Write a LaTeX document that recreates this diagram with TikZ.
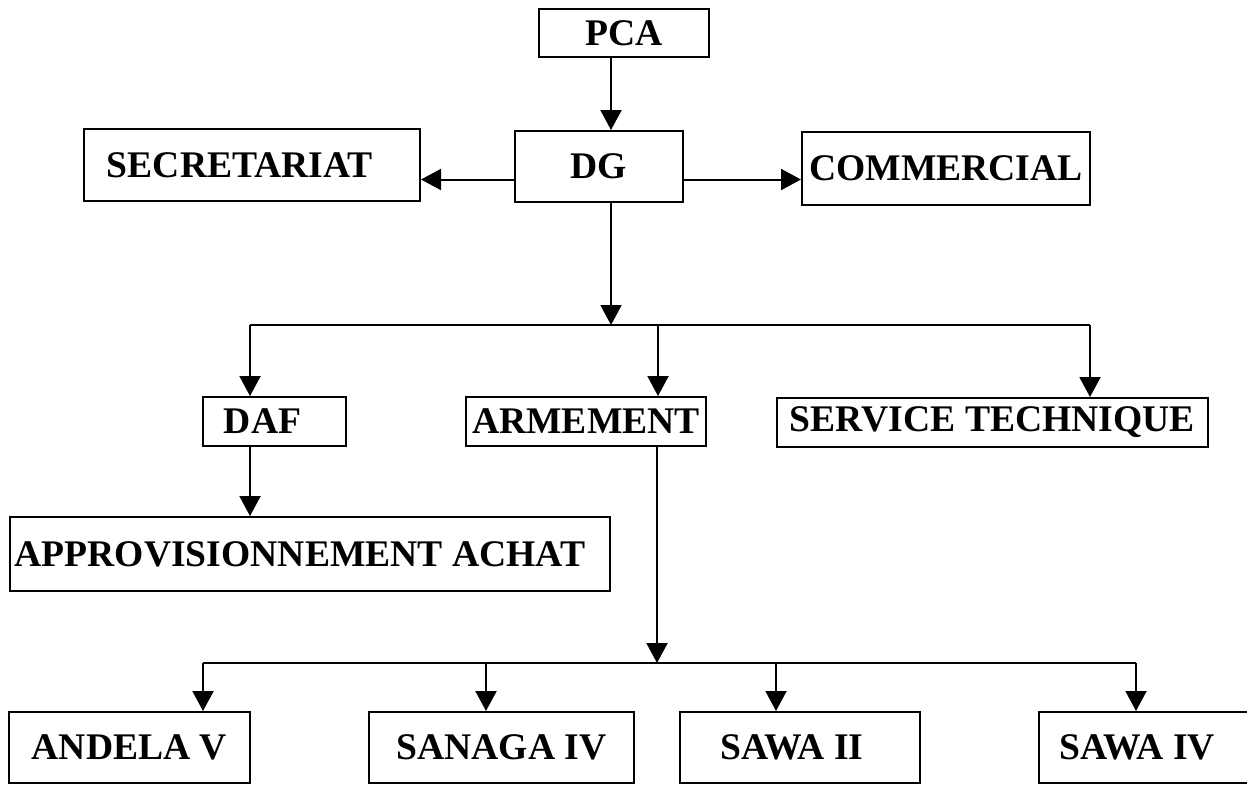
\documentclass[tikz,border=0pt]{standalone}
\usepackage{fontspec}
\setmainfont{Liberation Serif}
\usetikzlibrary{arrows.meta}
\begin{document}
\begin{tikzpicture}[x=0.5pt,y=-0.5pt,
  box/.style={draw,line width=1pt,inner sep=0pt,font=\fontsize{18.8}{22}\selectfont\bfseries},
  arr/.style={line width=1pt,-{Triangle[length=10pt,width=10.5pt]}},
  ln/.style={line width=1pt}]
\useasboundingbox (0,0) rectangle (1247,784);
\clip (0,0) rectangle (1247,784);
% boxes
\node[box,minimum width=85pt,minimum height=24pt] (pca) at (624,33) {PCA};
\node[box,minimum width=84pt,minimum height=35.5pt] (dg) at (599,166.5) {DG};
\node[box,minimum width=168pt,minimum height=36pt] (sec) at (252,165) {SECRETARIAT\hspace{12pt}\null};
\node[box,minimum width=144pt,minimum height=36.5pt] (com) at (946,168.5) {COMMERCIAL};
\node[box,minimum width=71.5pt,minimum height=24.5pt] (daf) at (274.5,421.5) {DAF\hspace{12pt}\null};
\node[box,minimum width=120pt,minimum height=24.5pt] (arm) at (586,421.5) {ARMEMENT};
\node[box,minimum width=215.5pt,minimum height=24.5pt] (svc) at (992.5,422.5) {SERVICE TECHNIQUE};
\node[box,minimum width=300pt,minimum height=37pt] (app) at (310,554) {APPROVISIONNEMENT ACHAT\hspace{10pt}\null};
\node[box,minimum width=120.5pt,minimum height=35.5pt] (and) at (129.5,747.5) {ANDELA V};
\node[box,minimum width=132.5pt,minimum height=35.5pt] (san) at (501.5,747.5) {SANAGA IV};
\node[box,minimum width=120pt,minimum height=35.5pt] (sw2) at (800,747.5) {SAWA II\hspace{8pt}\null};
\node[box,minimum width=113pt,minimum height=35.5pt] (sw4) at (1152,747.5) {SAWA IV\hspace{15pt}\null};
% coordinates on the buses
\coordinate (b1) at (611,325);
\coordinate (u1) at (250,325);
\coordinate (u2) at (658,325);
\coordinate (u3) at (1090,325);
\coordinate (b2) at (657,663);
\coordinate (t1) at (203,663);
\coordinate (t2) at (486,663);
\coordinate (t3) at (776,663);
\coordinate (t4) at (1136,663);
% connectors
\draw[arr] ([xshift=-6.5pt]pca.south) -- ([xshift=-6.5pt]pca.south |- dg.north);
\draw[arr] ([yshift=-6.5pt]dg.west) -- ([yshift=-6.5pt]dg.west -| sec.east);
\draw[arr] ([yshift=-6.5pt]dg.east) -- ([yshift=-6.5pt]dg.east -| com.west);
\draw[arr] (b1 |- dg.south) -- (b1);
\draw[ln] (u1) -- (u3);
\draw[arr] (u1) -- (u1 |- daf.north);
\draw[arr] (u2) -- (u2 |- arm.north);
\draw[arr] (u3) -- (u3 |- svc.north);
\draw[arr] (u1 |- daf.south) -- (u1 |- app.north);
\draw[arr] (b2 |- arm.south) -- (b2);
\draw[ln] (t1) -- (t4);
\draw[arr] (t1) -- (t1 |- and.north);
\draw[arr] (t2) -- (t2 |- san.north);
\draw[arr] (t3) -- (t3 |- sw2.north);
\draw[arr] (t4) -- (t4 |- sw4.north);
\end{tikzpicture}
\end{document}
